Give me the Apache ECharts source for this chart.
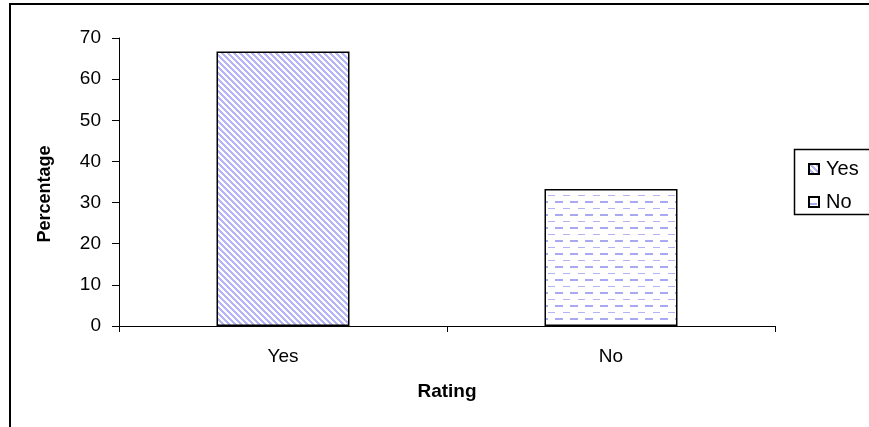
<!DOCTYPE html>
<html><head><meta charset="utf-8">
<script src="https://cdn.jsdelivr.net/npm/echarts@6/dist/echarts.min.js"></script>
<style>html,body{margin:0;padding:0;background:#fff}#c{width:869px;height:427px}</style>
</head><body><div id="c"></div>
<script>
var categories = ['Yes', 'No'];
var values = [66.7, 33.3];
var yTicks = [0, 10, 20, 30, 40, 50, 60, 70];
var yTitle = 'Percentage';
var xTitle = 'Rating';

function diagPattern() {
  var n = 6;
  var c = document.createElement('canvas'); c.width = n; c.height = n;
  var g = c.getContext('2d');
  g.fillStyle = '#ffffff'; g.fillRect(0, 0, n, n);
  g.fillStyle = '#b6b6f7';
  for (var y = 0; y < n; y++) {
    for (var k = 0; k < 3; k++) g.fillRect((y + k) % n, y, 1, 1);
  }
  return c;
}
function dashPattern() {
  var c = document.createElement('canvas'); c.width = 15; c.height = 13;
  var g = c.getContext('2d');
  g.fillStyle = '#ffffff'; g.fillRect(0, 0, 15, 13);
  g.fillStyle = '#b4b4f4';
  g.fillRect(8, 0, 7, 1);
  g.fillStyle = '#a9a9f2';
  g.fillRect(0, 6, 8, 2);
  return c;
}
var fills = [diagPattern(), dashPattern()];

var chart = echarts.init(document.getElementById('c'), null, {renderer: 'canvas'});
var FONT = 'Liberation Sans';
chart.setOption({
  animation: false,
  backgroundColor: '#fff',
  graphic: [
    {type: 'rect', shape: {x: 10, y: 4, width: 900, height: 500}, style: {fill: 'none', stroke: '#000', lineWidth: 2}, z: 0},
    {type: 'rect', shape: {x: 794.5, y: 149.5, width: 100, height: 65}, style: {fill: '#fff', stroke: '#000', lineWidth: 1.5}, z: 1},
    {type: 'text', x: 45, y: 194, rotation: Math.PI / 2,
      style: {text: yTitle, fontFamily: FONT, fontSize: 18, fontWeight: 'bold', fill: '#000', align: 'center', verticalAlign: 'middle'}, z: 5}
  ],
  legend: {
    left: 803, top: 154, orient: 'vertical', itemGap: 13,
    itemWidth: 10, itemHeight: 10, icon: 'rect',
    textStyle: {fontFamily: FONT, fontSize: 20, color: '#000', padding: [0, 0, 0, 2]},
    data: categories
  },
  grid: {left: 119, right: 94, top: 38, bottom: 101},
  xAxis: {
    type: 'category', data: categories,
    name: xTitle, nameLocation: 'middle', nameGap: 56,
    nameTextStyle: {fontFamily: FONT, fontSize: 19, fontWeight: 'bold', color: '#000'},
    axisLine: {lineStyle: {color: '#000', width: 1}},
    axisTick: {show: true, length: 6, lineStyle: {color: '#000'}},
    axisLabel: {fontFamily: FONT, fontSize: 19, color: '#000', margin: 21}
  },
  yAxis: {
    type: 'value', min: 0, max: 70, interval: 10,
    axisLine: {show: true, lineStyle: {color: '#000', width: 1}},
    axisTick: {show: true, length: 7, lineStyle: {color: '#000'}},
    axisLabel: {fontFamily: FONT, fontSize: 19, color: '#000', margin: 18,
      formatter: function (v) { return yTicks.indexOf(v) >= 0 ? String(v) : ''; }},
    splitLine: {show: false}
  },
  series: categories.map(function (name, i) {
    var d = categories.map(function (c, j) { return j === i ? values[j] : '-'; });
    return {
      name: name, type: 'bar', data: d, barWidth: 133, barGap: '-100%',
      itemStyle: {color: {image: fills[i], repeat: 'repeat'}, borderColor: '#000', borderWidth: 1.5}
    };
  })
});
</script></body></html>
